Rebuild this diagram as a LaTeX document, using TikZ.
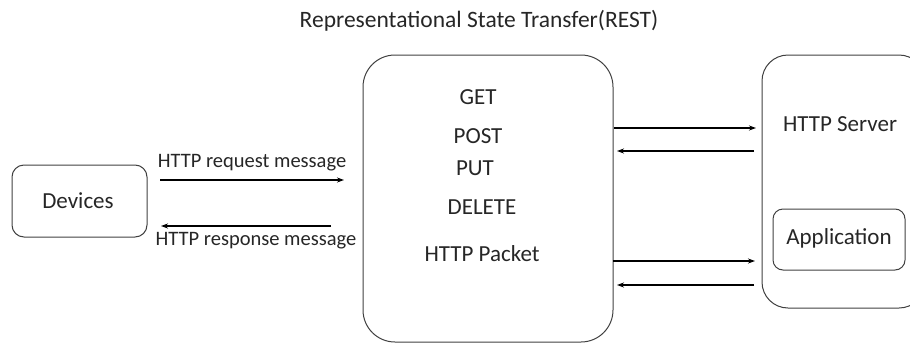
\documentclass[tikz,border=0pt]{standalone}
\usepackage{fontspec}
\setmainfont{Carlito}
\usetikzlibrary{arrows.meta}
\definecolor{txt}{HTML}{262626}
\definecolor{ln}{HTML}{404040}
\begin{document}
\begin{tikzpicture}[x=1pt,y=-1pt,
  lbl/.style={font=\fontsize{23}{26}\selectfont, text=txt, inner sep=0pt},
  small/.style={lbl, font=\fontsize{20.5}{24}\selectfont},
  rbox/.style={draw=ln, line width=1pt},
  arr/.style={-{Stealth[length=7pt,width=5pt]}, line width=1.6pt, black}]
\useasboundingbox (0,0) rectangle (910,343);
% title
\node[lbl, font=\fontsize{23.5}{26}\selectfont] (title) at (479,21) {Representational State Transfer(REST)};
% boxes
\draw[rbox, rounded corners=12pt] (12,165) rectangle (147,237);
\node[lbl] (dev) at (78,201) {Devices};
\draw[rbox, rounded corners=32pt] (363,55) rectangle (613,342);
\draw[rbox, rounded corners=26pt] (762,55) rectangle (925,308);
\draw[rbox, rounded corners=10pt] (773,209) rectangle (905,270);
\node[lbl] (app) at (839,238) {Application};
\node[lbl] (srv) at (840,124) {HTTP Server};
% central texts
\node[lbl] (get) at (478,97) {GET};
\node[lbl] (post) at (478,136) {POST};
\node[lbl] (put) at (475,168) {PUT};
\node[lbl] (del) at (482,207) {DELETE};
\node[lbl] (pkt) at (482,254) {HTTP Packet};
% left arrows
\coordinate (a1s) at (160,180); \coordinate (a1e) at (344,180);
\coordinate (a2s) at (331,226); \coordinate (a2e) at (161,226);
\draw[arr] (a1s) -- (a1e);
\draw[arr] (a2s) -- (a2e);
\node[small] (req) at (252,163) {HTTP request message};
\node[small] (resp) at (256,241) {HTTP response message};
% right arrows
\coordinate (b1s) at (614,128); \coordinate (b1e) at (756,128);
\coordinate (b2s) at (754,151); \coordinate (b2e) at (617,151);
\coordinate (b3s) at (613,261); \coordinate (b3e) at (755,261);
\coordinate (b4s) at (754,285); \coordinate (b4e) at (617,285);
\draw[arr] (b1s) -- (b1e);
\draw[arr] (b2s) -- (b2e);
\draw[arr] (b3s) -- (b3e);
\draw[arr] (b4s) -- (b4e);
\end{tikzpicture}
\end{document}
